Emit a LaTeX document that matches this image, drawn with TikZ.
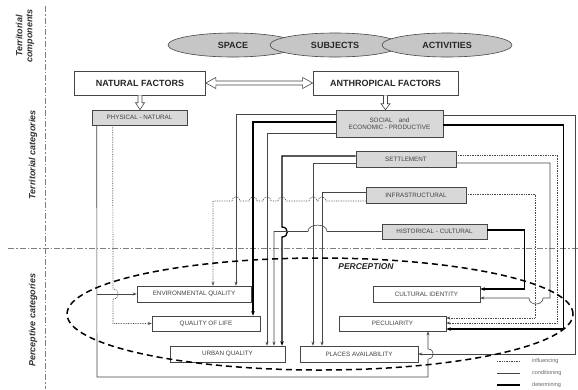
\documentclass[tikz,border=0pt]{standalone}
\usepackage{fontspec}
\setmainfont{Liberation Sans}
\usetikzlibrary{arrows.meta,shapes.geometric,calc}
\definecolor{boxgray}{RGB}{216,216,216}
\definecolor{ellgray}{RGB}{198,198,198}
\definecolor{linegray}{RGB}{70,70,70}
\begin{document}
\begin{tikzpicture}[x=1pt,y=-1pt,
 wbox/.style={draw=linegray, fill=white, line width=0.6pt, inner sep=0pt, font=\fontsize{6.3}{7.3}\selectfont, text=black!75},
 gbox/.style={wbox, fill=boxgray},
 bigbox/.style={draw=linegray, fill=white, line width=0.7pt, inner sep=0pt, font=\fontsize{9}{10}\selectfont\bfseries, text=black!85},
 topell/.style={ellipse, draw=linegray, fill=ellgray, line width=0.6pt, minimum width=130pt, minimum height=24pt, inner sep=0pt, font=\fontsize{9}{10}\selectfont\bfseries, text=black!85},
 hollowarr/.style={draw=linegray, fill=white, line width=0.6pt, line join=miter},
 axisline/.style={draw=gray, line width=0.6pt, dash pattern=on 6pt off 2pt on 1.5pt off 2pt},
 sidelab/.style={rotate=90, align=center, inner sep=0pt, font=\fontsize{9}{10}\selectfont\bfseries\itshape, text=black!80},
 infl/.style={densely dotted, line width=0.7pt, draw=linegray, -{Stealth[length=4pt,width=3pt]}},
 cond/.style={line width=0.6pt, draw=linegray, -{Stealth[length=4pt,width=3pt]}},
 det/.style={line width=1.3pt, draw=black, -{Stealth[length=4.5pt,width=3.5pt]}},
 legt/.style={inner sep=0pt, anchor=west, font=\fontsize{5.5}{6}\selectfont, text=black!60}
]
\useasboundingbox (0,0) rectangle (578,389);
\fill[white] (0,0) rectangle (578,389);

% separating axes
\draw[axisline] (45,6) -- (45,389);
\draw[axisline] (8,248) -- (578,248);

% side labels
\node[sidelab] (labc) at (25,36) {Territorial\\components};
\node[sidelab] (labt) at (33,155) {Territorial categories};
\node[sidelab] (labp) at (33,320) {Perceptive categories};

% territorial components
\node[topell] (space) at (233,45) {SPACE};
\node[topell] (subj) at (335,45) {SUBJECTS};
\node[topell] (act) at (447,45) {ACTIVITIES};

% factors
\node[bigbox, minimum width=131pt, minimum height=24pt] (nat) at (140,83) {NATURAL FACTORS};
\node[bigbox, minimum width=145pt, minimum height=24pt] (ant) at (385.5,83) {ANTHROPICAL FACTORS};

% territorial categories
\node[gbox, minimum width=95pt, minimum height=15pt] (phys) at (139.5,117.5) {PHYSICAL - NATURAL};
\node[gbox, minimum width=107pt, minimum height=27pt, align=center] (soc) at (389.5,123.5) {SOCIAL\quad and\\ECONOMIC - PRODUCTIVE};
\node[gbox, minimum width=100pt, minimum height=16pt] (sett) at (406,159) {SETTLEMENT};
\node[gbox, minimum width=100pt, minimum height=16pt] (infra) at (416,195) {INFRASTRUCTURAL};
\node[gbox, minimum width=105pt, minimum height=15pt] (hist) at (434.5,231.5) {HISTORICAL - CULTURAL};

% perceptive categories
\node[wbox, minimum width=114pt, minimum height=16pt] (env) at (194,294) {ENVIRONMENTAL QUALITY};
\node[wbox, minimum width=108pt, minimum height=15pt] (qol) at (206,323.5) {QUALITY OF LIFE};
\node[wbox, minimum width=115pt, minimum height=16pt] (urban) at (227.5,354) {URBAN QUALITY};
\node[wbox, minimum width=118pt, minimum height=16pt] (places) at (359,354) {PLACES AVAILABILITY};
\node[wbox, minimum width=107pt, minimum height=16pt] (cult) at (426.5,294) {CULTURAL IDENTITY};
\node[wbox, minimum width=107pt, minimum height=15pt] (pec) at (392.5,323.5) {PECULIARITY};

\node[inner sep=0pt, font=\fontsize{8.5}{10}\selectfont\bfseries\itshape, text=black!85] (perc) at (366,267) {PERCEPTION};

% hollow arrows
\draw[hollowarr] (nat.east) -- ($(nat.east)+(10,-5.5)$) -- ($(nat.east)+(10,-2)$)
  -- ($(ant.west)+(-10,-2)$) -- ($(ant.west)+(-10,-5.5)$) -- (ant.west)
  -- ($(ant.west)+(-10,5.5)$) -- ($(ant.west)+(-10,2)$)
  -- ($(nat.east)+(10,2)$) -- ($(nat.east)+(10,5.5)$) -- cycle;
\coordinate (t1) at (nat.south |- phys.north);
\draw[hollowarr] ($(nat.south)+(-2,0)$) -- ($(t1)+(-2,-7)$) -- ($(t1)+(-4.5,-7)$) -- (t1)
  -- ($(t1)+(4.5,-7)$) -- ($(t1)+(2,-7)$) -- ($(nat.south)+(2,0)$);
\coordinate (t2) at (ant.south |- soc.north);
\draw[hollowarr] ($(ant.south)+(-2,0)$) -- ($(t2)+(-2,-6)$) -- ($(t2)+(-4.5,-6)$) -- (t2)
  -- ($(t2)+(4.5,-6)$) -- ($(t2)+(2,-6)$) -- ($(ant.south)+(2,0)$);

% PHYSICAL - NATURAL
\coordinate (p1) at ([xshift=5pt]phys.south west);
\coordinate (p1b) at (p1 |- env.west);
\coordinate (p1c) at (97,377);
\coordinate (p1d) at ([xshift=35.5pt]pec.south |- p1c);
\draw[cond] (p1) -- (p1c) -- (p1d) -- (428,359) .. controls (435,359) and (435,349) .. (428,349) -- ([xshift=35.5pt]pec.south);
\draw[cond] (p1b) -- (env.west);
\draw[infl] ([xshift=21pt]phys.south west) -- (113,289) .. controls (120,289) and (120,299) .. (113,299) -- (113,323.5) -- (qol.west);

% SOCIAL and ECONOMIC - PRODUCTIVE
\draw[cond] ([yshift=9.5pt]soc.west) -| ([xshift=42pt]env.north);
\draw[det] ([yshift=1.5pt]soc.west) -| ([xshift=47pt]qol.north);
\draw[cond] ([yshift=-9.5pt]soc.west) -| ([xshift=39.5pt]urban.north);
\draw[cond] ([yshift=8.5pt]soc.east) -| ([xshift=157pt]places.east) -- (places.east);
\draw[det] ([yshift=-1.5pt]soc.east) -| ([xshift=117pt,yshift=-5.5pt]pec.east) -- ([yshift=-5.5pt]pec.east);

% SETTLEMENT
\draw[det] ([yshift=3pt]sett.west) -| (282,227) .. controls (289,227) and (289,237) .. (282,237) -- ([xshift=54.5pt]urban.north);
\draw[cond] ([yshift=-4pt]sett.west) -| ([xshift=-46pt]places.north);
\draw[infl] ([yshift=4pt]sett.east) -| ([xshift=111pt,yshift=0.5pt]pec.east) -- ([yshift=0.5pt]pec.east);
\draw[cond] ([yshift=-4pt]sett.east) -| (550,298) -- (543,298) .. controls (543,306) and (529,306) .. (529,298) -- ([yshift=-4pt]cult.east);

% INFRASTRUCTURAL
\draw[cond] ([yshift=3pt]infra.west) -| ([xshift=-37pt]places.north);
\draw[infl] ([yshift=-6pt]infra.west) -- (326,201) .. controls (326,195.5) and (318,195.5) .. (318,201)
  -- (317,201) .. controls (317,195.5) and (309,195.5) .. (309,201)
  -- (286,201) .. controls (286,195.5) and (278,195.5) .. (278,201)
  -- (271,201) .. controls (271,195.5) and (263,195.5) .. (263,201)
  -- (257,201) .. controls (257,195.5) and (249,195.5) .. (249,201)
  -- (240,201) .. controls (240,195.5) and (232,195.5) .. (232,201)
  -| ([xshift=19pt]env.north);
\draw[infl] ([yshift=1pt]infra.east) -| ([xshift=89pt,yshift=5.5pt]pec.east) -- ([yshift=5.5pt]pec.east);

% HISTORICAL - CULTURAL
\draw[cond] (hist.west) -- (327,231.5) .. controls (327,223) and (308,223) .. (308,231.5) -| ([xshift=46.5pt]urban.north);
\draw[det] ([yshift=1.5pt]hist.east) -| ([xshift=44pt,yshift=5pt]cult.east) -- ([yshift=5pt]cult.east);

% perception ellipse
\draw[line width=1.5pt, dash pattern=on 6pt off 4pt] (320,314) ellipse [x radius=253pt, y radius=56pt];

% legend
\node[legt] (lg1) at (532,361) {influencing};
\node[legt] (lg2) at (532,373.5) {conditioning};
\node[legt] (lg3) at (532,385) {determining};
\draw[densely dotted, line width=0.7pt, draw=linegray] ([xshift=-35pt]lg1.west) -- ([xshift=-12pt]lg1.west);
\draw[line width=0.6pt, draw=linegray] ([xshift=-35pt]lg2.west) -- ([xshift=-12pt]lg2.west);
\draw[line width=1.3pt] ([xshift=-35pt]lg3.west) -- ([xshift=-12pt]lg3.west);
\end{tikzpicture}
\end{document}
